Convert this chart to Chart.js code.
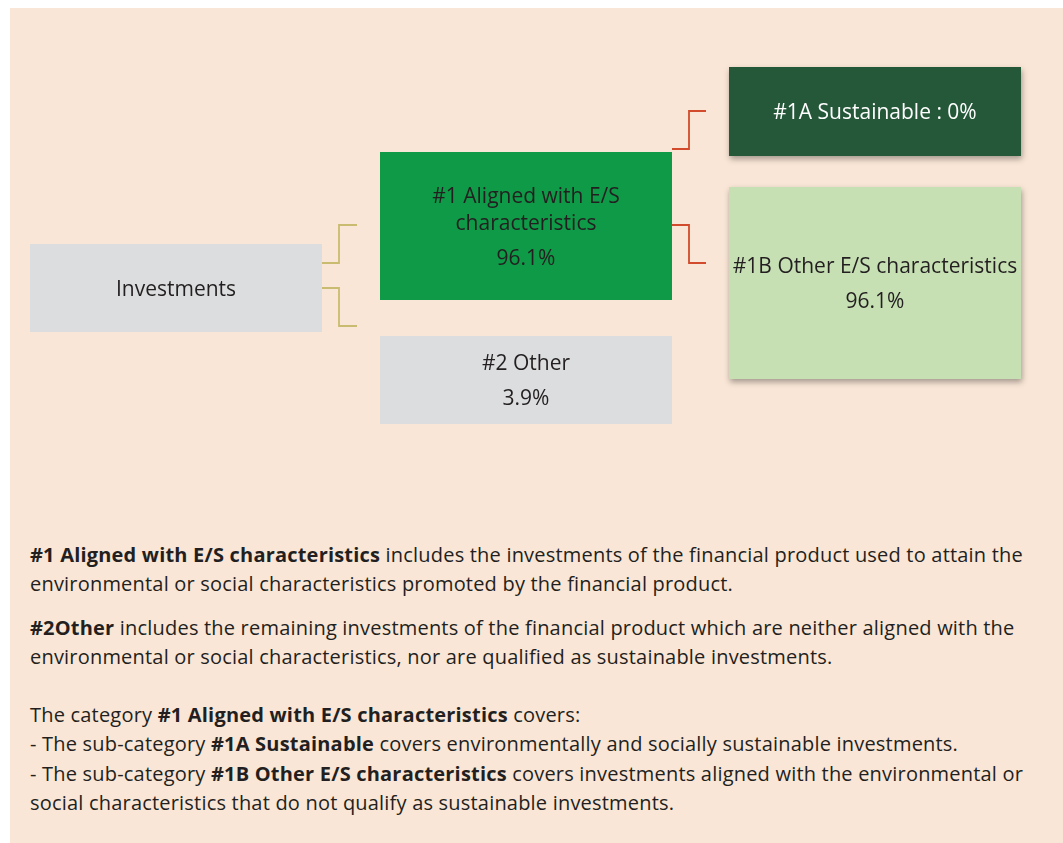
<!DOCTYPE html>
<html>
<head>
<meta charset="utf-8">
<script src="https://cdn.jsdelivr.net/npm/chart.js@4/dist/chart.umd.min.js"></script>
<style>
  html, body { margin: 0; padding: 0; background: #fff; }
  body { width: 1063px; height: 843px; position: relative; overflow: hidden; font-family: "Open Sans", Lato, sans-serif; }
  .panel { position: absolute; left: 10px; top: 8px; width: 1053px; height: 835px; background: #f9e6d6; }
  .chart-wrap { position: absolute; left: 0; top: 0; width: 1063px; height: 480px; }
  .notes { position: absolute; left: 30px; top: 540px; color: #231f20; font-size: 20px; letter-spacing: 0.2px; line-height: 29.3px; white-space: nowrap; }
  .notes p { margin: 0; }
  .notes p + p { margin-top: 14px; }
  .notes p.gap { margin-top: 29px; }
</style>
</head>
<body>
<div class="panel"></div>
<div class="chart-wrap"><canvas id="tree"></canvas></div>
<div class="notes">
  <p><b>#1 Aligned with E/S characteristics</b> includes the investments of the financial product used to attain the<br>environmental or social characteristics promoted by the financial product.</p>
  <p><b>#2Other</b> includes the remaining investments of the financial product which are neither aligned with the<br>environmental or social characteristics, nor are qualified as sustainable investments.</p>
  <p class="gap">The category <b>#1 Aligned with E/S characteristics</b> covers:<br>- The sub-category <b>#1A Sustainable</b> covers environmentally and socially sustainable investments.<br>- The sub-category <b>#1B Other E/S characteristics</b> covers investments aligned with the environmental or<br>social characteristics that do not qualify as sustainable investments.</p>
</div>
<script>
// categories and values
const nodeNames = ["Investments", "#1 Aligned with E/S characteristics", "#2 Other", "#1A Sustainable", "#1B Other E/S characteristics"];
const nodeLines = [["Investments"], ["#1 Aligned with E/S", "characteristics"], ["#2 Other"], ["#1A Sustainable : 0%"], ["#1B Other E/S characteristics"]];
const nodeShares = [null, 96.1, 3.9, 0, 96.1];
const showShareLine = [false, true, true, false, true];

// layout (diagram units, same as canvas px)
const boxes = [
  { x0: 30, x1: 322, y0: 244, y1: 332 },
  { x0: 380, x1: 672, y0: 152, y1: 300 },
  { x0: 380, x1: 672, y0: 336, y1: 424 },
  { x0: 729, x1: 1021, y0: 67, y1: 156 },
  { x0: 729, x1: 1021, y0: 187, y1: 379 },
];
const boxFill = ["#dcdddf", "#0f9a48", "#dcdddf", "#255839", "#c6e0b4"];
const textColor = ["#231f20", "#231f20", "#231f20", "#ffffff", "#231f20"];
const hasShadow = [false, false, false, true, true];

// elbow connectors: [x start, x mid, x end, y start, y end]
const links = [
  { pts: [322, 339, 357, 263, 225], color: "#c9bb70" },
  { pts: [322, 339, 357, 288, 326], color: "#c9bb70" },
  { pts: [672, 689, 706, 149, 111], color: "#d14b2c" },
  { pts: [672, 689, 706, 225, 263], color: "#d14b2c" },
];

const FONT = "21px 'Open Sans', Lato, sans-serif";
const LINE_H = 27;
const SHARE_GAP = 35;
const TEXT_NUDGE = 2;

const treePlugin = {
  id: "treePlugin",
  afterDatasetsDraw(chart) {
    const { ctx } = chart;
    const sx = chart.scales.x;
    const sy = chart.scales.y;
    const px = (v) => sx.getPixelForValue(v);
    const py = (v) => sy.getPixelForValue(v);

    ctx.save();
    links.forEach((l) => {
      const [xa, xm, xb, ya, yb] = l.pts;
      ctx.beginPath();
      ctx.moveTo(px(xa), py(ya));
      ctx.lineTo(px(xm), py(ya));
      ctx.lineTo(px(xm), py(yb));
      ctx.lineTo(px(xb), py(yb));
      ctx.strokeStyle = l.color;
      ctx.lineWidth = 1.8;
      ctx.stroke();
    });

    boxes.forEach((b, i) => {
      const left = px(b.x0);
      const top = py(b.y0);
      const w = px(b.x1) - left;
      const h = py(b.y1) - top;
      ctx.save();
      if (hasShadow[i]) {
        ctx.shadowColor = "rgba(0,0,0,0.35)";
        ctx.shadowBlur = 6;
        ctx.shadowOffsetX = 1;
        ctx.shadowOffsetY = 3;
      }
      ctx.fillStyle = boxFill[i];
      ctx.fillRect(left, top, w, h);
      ctx.restore();

      const lines = nodeLines[i].slice();
      const extra = showShareLine[i] ? SHARE_GAP : 0;
      const blockH = (lines.length - 1) * LINE_H + extra;
      const cx = left + w / 2;
      let y = top + h / 2 - blockH / 2 + TEXT_NUDGE;
      ctx.fillStyle = textColor[i];
      ctx.font = FONT;
      ctx.textAlign = "center";
      ctx.textBaseline = "middle";
      lines.forEach((t, k) => {
        ctx.fillText(t, cx, y + k * LINE_H);
      });
      if (showShareLine[i]) {
        ctx.fillText(nodeShares[i].toFixed(1) + "%", cx, y + (lines.length - 1) * LINE_H + SHARE_GAP);
      }
    });
    ctx.restore();
  },
};

new Chart(document.getElementById("tree").getContext("2d"), {
  type: "scatter",
  data: {
    labels: nodeNames,
    datasets: [
      {
        label: "nodes",
        data: boxes.map((b) => ({ x: (b.x0 + b.x1) / 2, y: (b.y0 + b.y1) / 2 })),
        pointRadius: 0,
        pointHoverRadius: 0,
      },
    ],
  },
  options: {
    responsive: true,
    maintainAspectRatio: false,
    animation: false,
    layout: { padding: 0 },
    plugins: { legend: { display: false }, tooltip: { enabled: false } },
    scales: {
      x: { type: "linear", min: 0, max: 1063, display: false },
      y: { type: "linear", min: 0, max: 480, reverse: true, display: false },
    },
  },
  plugins: [treePlugin],
});
</script>
</body>
</html>
